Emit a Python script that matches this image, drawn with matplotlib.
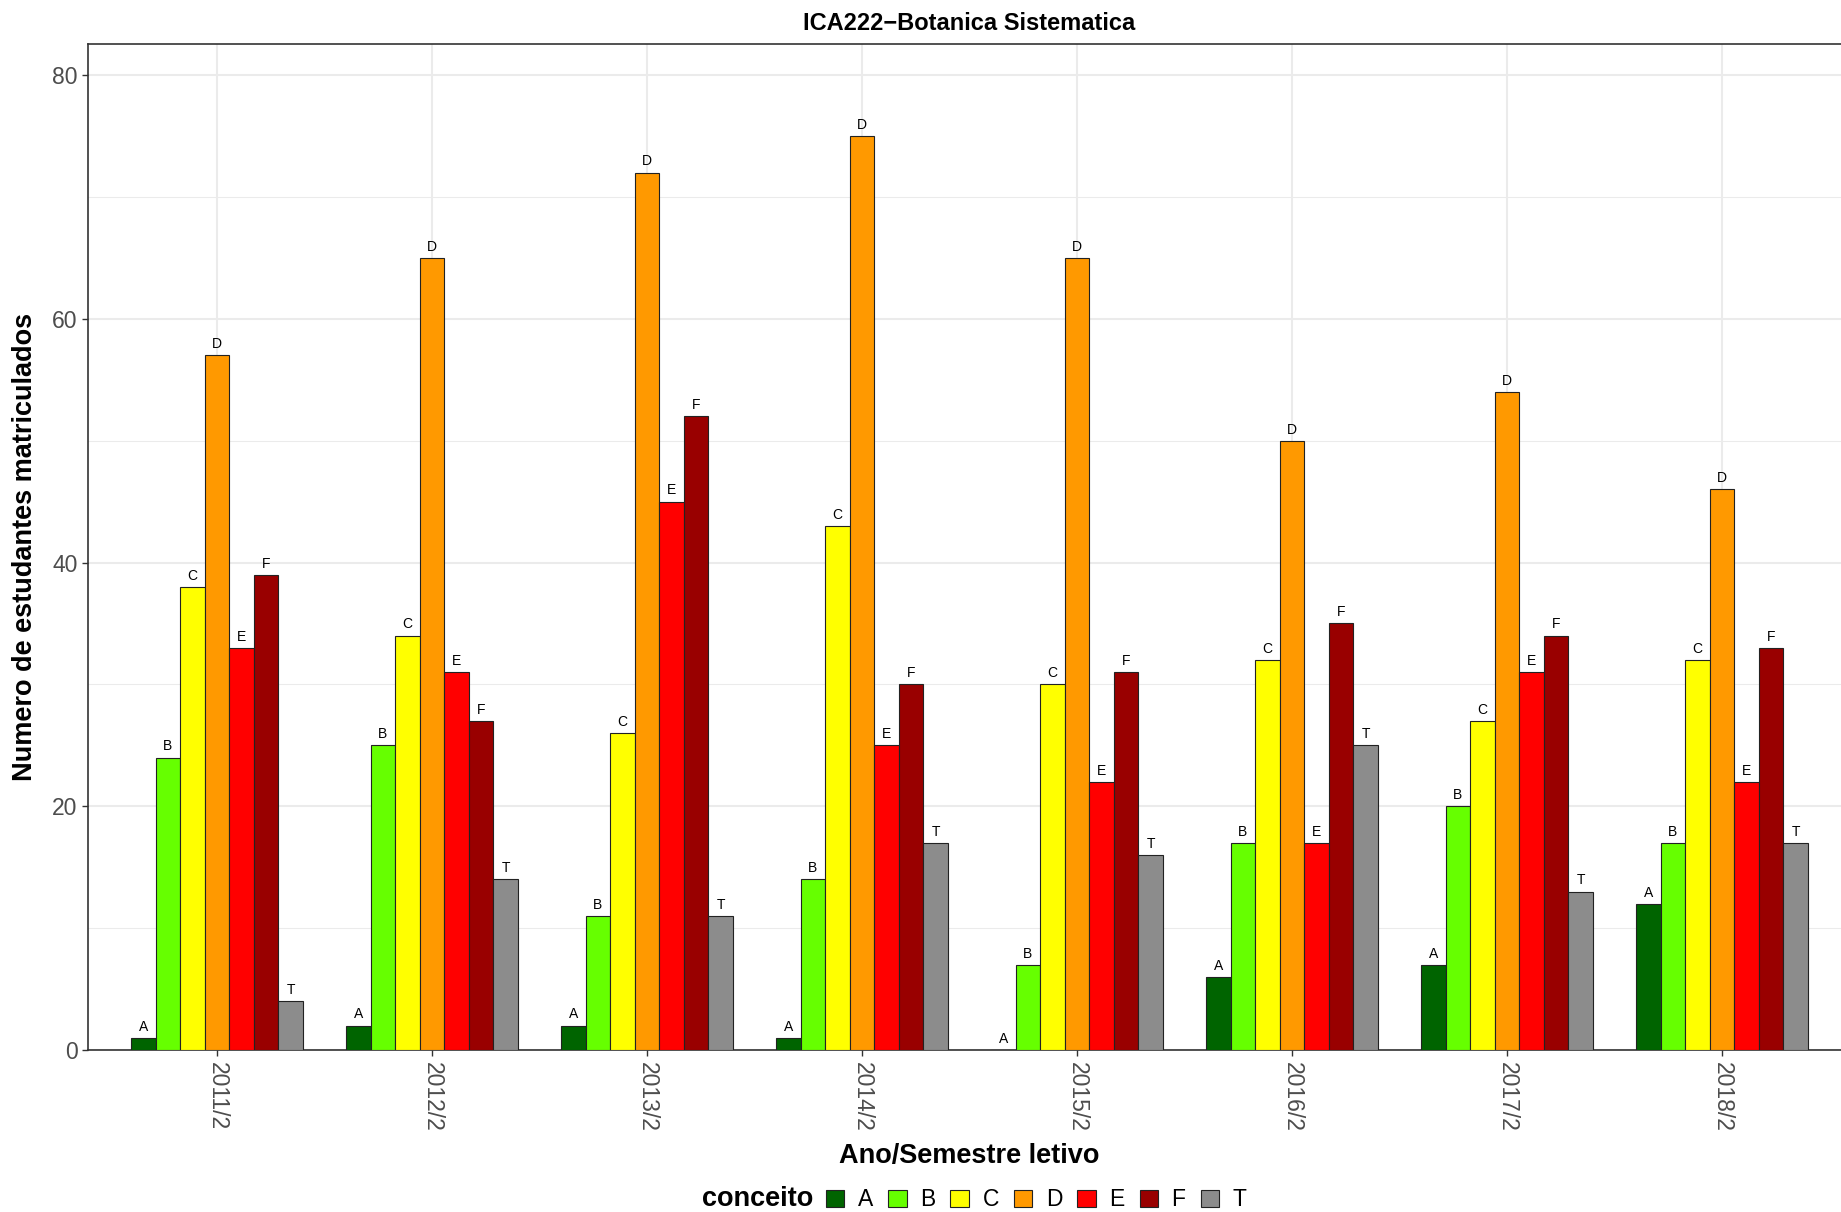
import numpy as np
import matplotlib
matplotlib.use('Agg')
import matplotlib.pyplot as plt
from matplotlib.patches import Patch

plt.rcParams['font.family'] = ['Liberation Sans', 'DejaVu Sans']

semestres = ['2011/2', '2012/2', '2013/2', '2014/2', '2015/2', '2016/2', '2017/2', '2018/2']
conceitos = ['A', 'B', 'C', 'D', 'E', 'F', 'T']
cores = ['#006400', '#66FF00', '#FFFF00', '#FF9900', '#FF0000', '#990000', '#8C8C8C']

# numero de estudantes por conceito (linhas = conceito, colunas = semestre)
nA = [1, 2, 2, 1, 0, 6, 7, 12]
nB = [24, 25, 11, 14, 7, 17, 20, 17]
nC = [38, 34, 26, 43, 30, 32, 27, 32]
nD = [57, 65, 72, 75, 65, 50, 54, 46]
nE = [33, 31, 45, 25, 22, 17, 31, 22]
nF = [39, 27, 52, 30, 31, 35, 34, 33]
nT = [4, 14, 11, 17, 16, 25, 13, 17]
valores = [nA, nB, nC, nD, nE, nF, nT]

fig = plt.figure(figsize=(18.41, 12.12), dpi=100)
ax = fig.add_axes([88/1841, 1 - 1050/1212, (1851 - 88)/1841, (1050 - 44)/1212])

x = np.arange(1, len(semestres) + 1)
w = 0.8 / len(conceitos)
for i, (c, v, cor) in enumerate(zip(conceitos, valores, cores)):
    xs = x + (i - 3) * w
    ax.bar(xs, v, width=w, color=cor, edgecolor='#222222', linewidth=0.8, zorder=3)
    for xi, vi in zip(xs, v):
        ax.annotate(c, (xi, vi), xytext=(0, 3), textcoords='offset points',
                    ha='center', va='bottom', fontsize=10, color='black', zorder=4)

ax.set_xlim(0.4, 8.6)
ax.set_ylim(0, 82.55)
ax.set_xticks(x)
ax.set_xticklabels(semestres, rotation=270, fontsize=16.5, color='#4D4D4D')
ax.set_yticks([0, 20, 40, 60, 80])
ax.set_yticks([10, 30, 50, 70], minor=True)
ax.tick_params(axis='y', labelsize=16.5, labelcolor='#4D4D4D', length=4, width=1, color='#333333', which='major')
ax.tick_params(axis='y', which='minor', length=0)
ax.tick_params(axis='x', length=4, width=1, color='#333333', pad=5)
ax.grid(which='major', color='#EBEBEB', linewidth=1.5, zorder=0)
ax.grid(which='minor', axis='y', color='#EBEBEB', linewidth=0.75, zorder=0)
for s in ax.spines.values():
    s.set_color('#333333')
    s.set_linewidth(1.2)

ax.set_title('ICA222\u2212Botanica Sistematica', fontsize=17, fontweight='bold', pad=10)
ax.set_xlabel('Ano/Semestre letivo', fontsize=19.5, fontweight='bold', labelpad=8)
ax.set_ylabel('Numero de estudantes matriculados', fontsize=19.5, fontweight='bold', labelpad=10)

handles = [Patch(facecolor=cor, edgecolor='#222222', linewidth=0.8) for cor in cores]
fig.text(702/1841, 1 - 1199/1212, 'conceito', fontsize=19.5, fontweight='bold', va='center', ha='left')
fig.legend(handles, conceitos, loc='center left', bbox_to_anchor=(826/1841, 1 - 1200/1212),
           ncol=7, frameon=False, fontsize=16.5, handlelength=0.8, handleheight=0.8,
           handletextpad=0.6, columnspacing=0.65, borderpad=0, borderaxespad=0)

plt.savefig('out.png', dpi=100)
